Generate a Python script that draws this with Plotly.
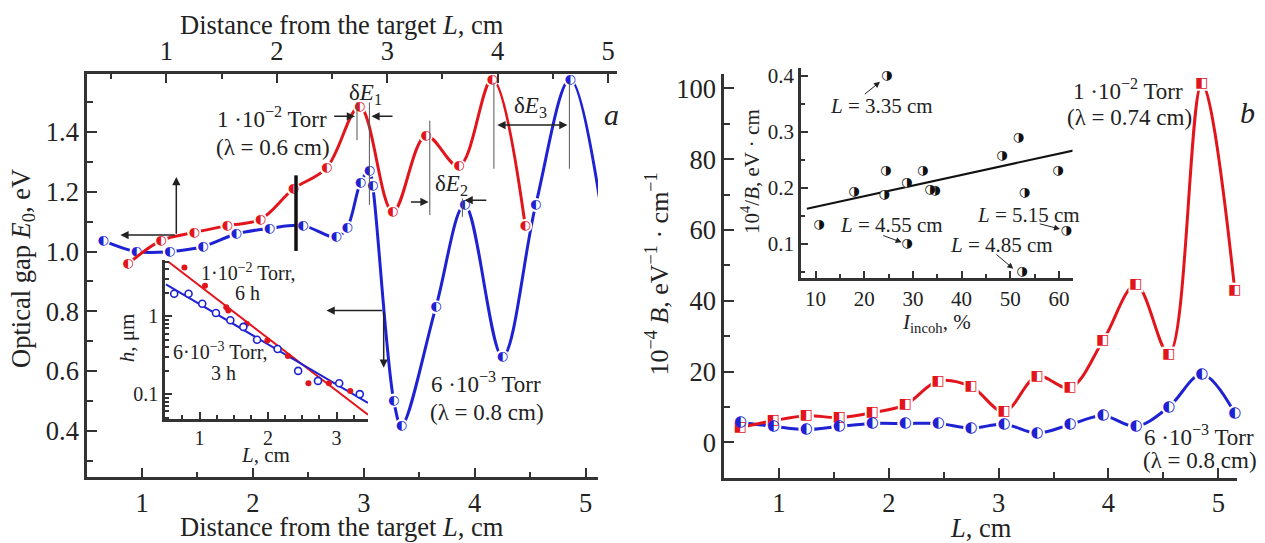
import plotly.graph_objects as go

W, H = 1265, 543
def px(x): return x / W
def py(y): return 1 - y / H

FONT = "Liberation Serif, Times New Roman, DejaVu Serif, serif"
GLYPH_FONT = "DejaVu Sans"
RED = "#e3151c"
BLUE = "#1e22d2"
AX = "#333333"
TXT = "#222222"

# ---------------- Panel a: optical gap ----------------
L_red_a = [0.65, 0.95, 1.25, 1.55, 1.85, 2.15, 2.45, 2.75, 3.05, 3.35, 3.65, 3.95, 4.25]
E_red_a = [0.958, 1.037, 1.064, 1.087, 1.108, 1.210, 1.280, 1.485, 1.133, 1.388, 1.286, 1.577, 1.086]
L_blue_a = [0.65, 0.95, 1.25, 1.55, 1.85, 2.15, 2.45, 2.75, 2.85, 2.97, 3.05, 3.08,
            3.27, 3.34, 3.65, 3.91, 4.25, 4.55, 4.86, 5.14]
E_blue_a = [1.037, 1.000, 1.000, 1.017, 1.059, 1.078, 1.087, 1.048, 1.080, 1.230, 1.272, 1.221,
            0.501, 0.417, 0.814, 1.156, 0.648, 1.156, 1.577, 1.144]

# inset a: thickness h vs L
L_red_h = [0.78, 1.08, 1.39, 1.42, 1.69, 1.99, 2.29, 2.59, 2.89, 3.20]
h_red = [4.23, 2.47, 1.31, 1.19, 0.80, 0.49, 0.31, 0.138, 0.138, 0.11]
L_blue_h = [0.63, 0.84, 1.04, 1.24, 1.45, 1.64, 1.84, 2.14, 2.44, 2.73, 3.04, 3.34]
h_blue = [1.95, 1.95, 1.45, 1.10, 0.89, 0.73, 0.50, 0.38, 0.199, 0.148, 0.138, 0.100]
fit_red_L = [0.54, 3.46]
fit_red_h = [5.04, 0.0544]
fit_blue_L = [0.51, 3.46]
fit_blue_h = [2.56, 0.0774]

# ---------------- Panel b: B coefficient ----------------
L_b = [0.65, 0.95, 1.25, 1.55, 1.85, 2.15, 2.45, 2.75, 3.05, 3.35, 3.65, 3.95, 4.25, 4.55, 4.85, 5.15]
B_red = [4.2, 6.1, 7.5, 7.0, 8.4, 10.6, 17.3, 15.7, 8.7, 18.7, 15.4, 28.7, 44.5, 24.9, 101.5, 43.0]
B_blue = [5.6, 4.5, 3.6, 4.5, 5.3, 5.3, 5.3, 4.0, 5.1, 2.6, 5.0, 7.5, 4.5, 10.0, 19.2, 8.2]

# inset b: 10^4/B vs I_incoh
I_incoh = [24.6, 10.7, 17.9, 24.1, 24.4, 28.7, 28.75, 32.0, 33.5, 34.5, 48.3, 51.7, 52.4, 52.9, 59.8, 61.5]
invB = [0.400, 0.134, 0.193, 0.188, 0.230, 0.209, 0.100, 0.230, 0.197, 0.195, 0.257, 0.289, 0.051, 0.191, 0.230, 0.123]
fit_I = [8.2, 63.0]
fit_invB = [0.163, 0.267]

fig = go.Figure()

def line_tr(x, y, color, xa, ya, width=3):
    return go.Scatter(x=x, y=y, mode="lines", xaxis=xa, yaxis=ya, hoverinfo="skip",
                      line=dict(color=color, width=width, shape="spline", smoothing=1.0))

def halo_tr(x, y, xa, ya, size, symbol="circle"):
    return go.Scatter(x=x, y=y, mode="markers", xaxis=xa, yaxis=ya, hoverinfo="skip", cliponaxis=False,
                      marker=dict(color="white", size=size, symbol=symbol, line=dict(width=0)))

def glyph_tr(x, y, glyph, color, xa, ya, size):
    return go.Scatter(x=x, y=y, mode="text", xaxis=xa, yaxis=ya, hoverinfo="skip", cliponaxis=False,
                      text=[glyph] * len(x), textposition="middle center",
                      textfont=dict(family=GLYPH_FONT, size=size, color=color))

# panel a blue (bottom axis)
fig.add_trace(line_tr(L_blue_a, E_blue_a, BLUE, "x", "y"))
fig.add_trace(halo_tr(L_blue_a, E_blue_a, "x", "y", 14))
fig.add_trace(glyph_tr(L_blue_a, E_blue_a, "◐", BLUE, "x", "y", 13))
# panel a red (top axis)
fig.add_trace(line_tr(L_red_a, E_red_a, RED, "x2", "y"))
fig.add_trace(halo_tr(L_red_a, E_red_a, "x2", "y", 14))
fig.add_trace(glyph_tr(L_red_a, E_red_a, "◐", RED, "x2", "y", 13))

# inset a
fig.add_trace(go.Scatter(x=fit_red_L, y=fit_red_h, mode="lines", xaxis="x3", yaxis="y3",
                         line=dict(color=RED, width=2), hoverinfo="skip"))
fig.add_trace(go.Scatter(x=fit_blue_L, y=fit_blue_h, mode="lines", xaxis="x3", yaxis="y3",
                         line=dict(color=BLUE, width=2), hoverinfo="skip"))
fig.add_trace(go.Scatter(x=L_red_h, y=h_red, mode="markers", xaxis="x3", yaxis="y3", hoverinfo="skip",
                         marker=dict(color=RED, size=6, symbol="circle")))
fig.add_trace(go.Scatter(x=L_blue_h, y=h_blue, mode="markers", xaxis="x3", yaxis="y3", hoverinfo="skip",
                         marker=dict(color="white", size=7, symbol="circle", line=dict(color=BLUE, width=1.6))))

# panel b
fig.add_trace(line_tr(L_b, B_blue, BLUE, "x4", "y4"))
fig.add_trace(line_tr(L_b, B_red, RED, "x4", "y4"))
fig.add_trace(halo_tr(L_b, B_blue, "x4", "y4", 16))
fig.add_trace(halo_tr(L_b, B_red, "x4", "y4", 15, "square"))
fig.add_trace(glyph_tr(L_b, B_red, "◧", RED, "x4", "y4", 14))
fig.add_trace(glyph_tr(L_b, B_blue, "◐", BLUE, "x4", "y4", 15))

# inset b
fig.add_trace(go.Scatter(x=fit_I, y=fit_invB, mode="lines", xaxis="x5", yaxis="y5",
                         line=dict(color="#111", width=2), hoverinfo="skip"))
fig.add_trace(halo_tr(I_incoh, invB, "x5", "y5", 9))
fig.add_trace(glyph_tr(I_incoh, invB, "◑", "#111", "x5", "y5", 13))

def axis(domain, rng, dtick, minor_dtick, fsize=26.5, tlen=10, mlen=6, **kw):
    d = dict(domain=domain, range=rng, showline=True, linecolor=AX, linewidth=2.5,
             ticks="inside", ticklen=tlen, tickwidth=2, tickcolor=AX, showgrid=False, zeroline=False,
             tick0=0, dtick=dtick, tickfont=dict(family=FONT, size=fsize, color=TXT),
             minor=dict(ticks="inside", ticklen=mlen, tickwidth=2, tickcolor=AX, showgrid=False,
                        dtick=minor_dtick, tick0=0))
    d.update(kw)
    return d

ya_dom = [py(477), py(71)]
fig.update_layout(
    xaxis=axis([px(87), px(598)], [0.504, 5.112], 1, 0.5, anchor="y", side="bottom"),
    xaxis2=axis([px(87), px(617)], [0.280, 5.081], 1, 0.5, anchor="y", side="top"),
    yaxis=axis(ya_dom, [0.244, 1.596], 0.2, 0.1, anchor="x", tickformat=".1f"),
    xaxis3=axis([px(165), px(368)], [0.496, 3.46], 1, 0.25, fsize=20, tlen=7, mlen=4, anchor="y3"),
    yaxis3=dict(domain=[py(418), py(258)], type="log", range=[-1.315, 0.728], anchor="x3",
                showline=True, linecolor=AX, linewidth=2.5, ticks="inside", ticklen=7, tickwidth=2,
                tickcolor=AX, showgrid=False, zeroline=False, tickvals=[0.1, 1], ticktext=["0.1", "1"],
                tickfont=dict(family=FONT, size=20, color=TXT),
                minor=dict(ticks="inside", ticklen=4, tickwidth=1.5, tickcolor=AX, showgrid=False,
                           tickvals=[0.05, 0.06, 0.07, 0.08, 0.09, 0.2, 0.3, 0.4, 0.5, 0.6, 0.7, 0.8, 0.9,
                                     2, 3, 4, 5])),
    xaxis4=axis([px(724), px(1237)], [0.5, 5.17], 1, 0.5, anchor="y4"),
    yaxis4=axis([py(477.3), py(71.7)], [-10, 104], 20, 10, anchor="x4"),
    xaxis5=axis([px(801), px(1072.5)], [7, 62.8], 10, 5, fsize=21, tlen=7, mlen=4, anchor="y5"),
    yaxis5=axis([py(276.7), py(65)], [0.039, 0.415], 0.1, 0.05, fsize=21, tlen=7, mlen=4,
                anchor="x5", tickformat=".1f"),
)

ann = []
def T(x, y, text, size=23, angle=0, **kw):
    d = dict(x=px(x), y=py(y), xref="paper", yref="paper", text=text, showarrow=False,
             font=dict(family=FONT, size=size, color=TXT), xanchor="center", yanchor="middle",
             textangle=angle)
    d.update(kw)
    ann.append(d)

def A(hx, hy, tx, ty, width=1.5, head=2, size=1.1, side="end"):
    ann.append(dict(x=px(hx), y=py(hy), xref="paper", yref="paper", text="", showarrow=True,
                    ax=tx - hx, ay=ty - hy, axref="pixel", ayref="pixel", arrowhead=head,
                    arrowsize=size, arrowwidth=width, arrowcolor=TXT, standoff=0, startstandoff=0,
                    arrowside=side, startarrowhead=head, startarrowsize=size))

# panel a text
T(342, 21.7, "Distance from the target <i>L</i>, cm", 26.5)
T(342, 526.7, "Distance from the target <i>L</i>, cm", 26.5)
T(22.4, 267, "Optical gap <i>E</i><sub>0</sub>, eV", 26.5, -90)
T(365.5, 92, "δ<i>E</i><sub>1</sub>", 23)
T(272, 115, "1 ·10<sup>−2</sup> Torr", 23)
T(273, 145, "(λ = 0.6 cm)", 23)
T(451, 183, "δ<i>E</i><sub>2</sub>", 23)
T(530, 105, "δ<i>E</i><sub>3</sub>", 23)
T(611, 111.7, "<i>a</i>", 30)
T(486.4, 381.7, "6 ·10<sup>−3</sup> Torr", 23)
T(487, 411.7, "(λ = 0.8 cm)", 23)
# inset a text
T(248, 270.7, "1·10<sup>−2</sup> Torr,", 20)
T(247.5, 291.7, "6 h", 20)
T(220, 350, "6·10<sup>−3</sup> Torr,", 20)
T(223, 371.7, "3 h", 20)
T(126.5, 336.5, "<i>h</i>, μm", 21, -90)
T(265, 455, "<i>L</i>, cm", 21)

# panel a arrows
A(176.3, 175, 176.3, 233.3)
A(120.4, 233.3, 176.3, 233.3)
A(326.5, 309.3, 383.7, 309.3)
A(383.7, 366.7, 383.7, 309.3)
A(355, 114, 332.7, 114)
A(371.4, 114, 394, 114)
A(428.6, 200, 409.4, 200)
A(464.5, 198.3, 487.8, 198.3)
A(567.5, 122.7, 495.8, 122.7, side="end+start")

# panel b text
T(981, 528, "<i>L</i>, cm", 26.5)
T(658, 273, "10<sup>−4</sup> <i>B</i>, eV<sup>−1</sup> · cm<sup>−1</sup>", 26, -90)
T(1128, 87, "1 ·10<sup>−2</sup> Torr", 23)
T(1129, 115, "(λ = 0.74 cm)", 23)
T(1247, 110, "<i>b</i>", 30)
T(1199, 435, "6 ·10<sup>−3</sup> Torr", 23)
T(1200, 460, "(λ = 0.8 cm)", 23)
# inset b text
T(750, 170, "10<sup>4</sup>/<i>B</i>, eV · cm", 21, -90)
T(936.5, 321.7, "<i>I</i><sub>incoh</sub>, %", 21)
T(881.7, 103.3, "<i>L</i> = 3.35 cm", 21)
T(891.7, 223.3, "<i>L</i> = 4.55 cm", 21)
T(1028.3, 212.7, "<i>L</i> = 5.15 cm", 21)
T(1001.7, 243.3, "<i>L</i> = 4.85 cm", 21)
A(880, 79.3, 863.3, 92.7, width=1, size=1.2)
A(901.7, 240.7, 881.7, 233.3, width=1, size=1.2)
A(1060, 227.3, 1038.3, 221.7, width=1, size=1.2)
A(1013.3, 267.3, 995, 251.7, width=1, size=1.2)

shapes = []
def V(x, y0, y1, width=1, color="#555555"):
    shapes.append(dict(type="line", xref="paper", yref="paper", x0=px(x), x1=px(x), y0=py(y0), y1=py(y1),
                       line=dict(color=color, width=width)))
V(357, 100, 138)
V(369.4, 100, 203)
V(429.8, 118.3, 213.3)
V(462.4, 196.7, 215)
V(493.9, 80, 166.7)
V(569.4, 80, 166.7)
V(296, 173.3, 249.3, width=3.5, color="#111111")

fig.update_layout(
    width=W, height=H, margin=dict(l=0, r=0, t=0, b=0),
    paper_bgcolor="white", plot_bgcolor="rgba(0,0,0,0)",
    showlegend=False, annotations=ann, shapes=shapes,
    font=dict(family=FONT, color=TXT),
)

fig.write_html("out.html", config={"displayModeBar": False},
               post_script="document.body.style.margin='0';document.body.style.overflow='hidden';")
